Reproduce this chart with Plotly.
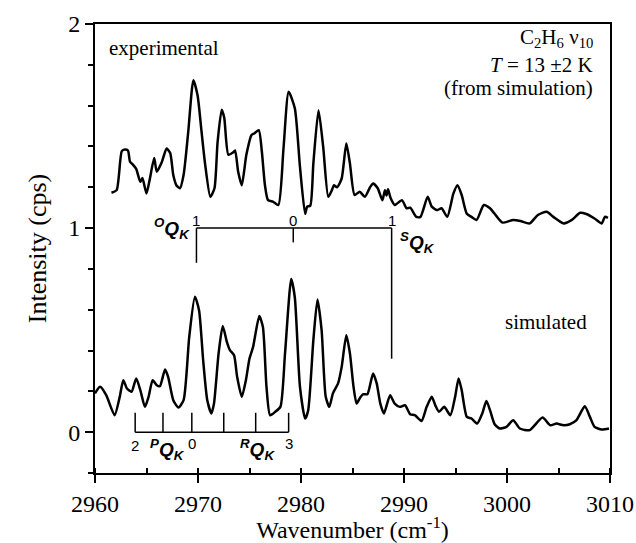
import plotly.graph_objects as go

# Experimental spectrum (offset by +1 cps)
exp_x = [2961.6, 2962.1, 2962.6, 2962.9, 2963.2, 2963.4, 2963.7, 2964.0, 2964.4, 2964.6,
         2965.0, 2965.3, 2965.75, 2966.0, 2966.5, 2966.95, 2967.3, 2967.6, 2967.9, 2968.25,
         2968.6, 2969.05, 2969.55, 2969.96, 2970.35, 2970.7, 2971.2, 2971.6, 2971.9, 2972.3,
         2972.55, 2972.95, 2973.4, 2973.6, 2973.9, 2974.25, 2974.7, 2975.2, 2975.5, 2975.9,
         2976.2, 2976.5, 2976.8, 2977.3, 2977.8, 2978.3, 2978.8, 2979.4, 2979.9, 2980.4,
         2980.6, 2980.9, 2981.2, 2981.7, 2982.15, 2982.65, 2983.0, 2983.2, 2983.5, 2983.95,
         2984.4, 2984.75, 2985.2, 2985.7, 2986.2, 2986.7, 2987.0, 2987.45, 2987.9, 2988.15,
         2988.3, 2988.45, 2988.7, 2989.1, 2989.8, 2990.25, 2990.6, 2991.2, 2991.6, 2992.3,
         2992.7, 2993.2, 2993.65, 2994.2, 2994.8, 2995.2, 2995.6, 2996.1, 2996.55, 2997.05,
         2997.75, 2998.35, 2998.8, 2999.55, 3000.6, 3001.3, 3002.2, 3003.0, 3003.85, 3004.5,
         3005.5, 3006.3, 3007.1, 3007.7, 3008.5, 3009.2, 3009.5, 3009.8]
exp_y = [1.173, 1.186, 1.377, 1.385, 1.38, 1.325, 1.31, 1.29, 1.227, 1.245,
         1.17, 1.235, 1.343, 1.276, 1.325, 1.39, 1.368, 1.26, 1.21, 1.195,
         1.26, 1.47, 1.725, 1.65, 1.47, 1.31, 1.153, 1.195, 1.42, 1.58,
         1.54, 1.36, 1.37, 1.38, 1.276, 1.21, 1.36, 1.456, 1.465, 1.48,
         1.374, 1.21, 1.137, 1.129, 1.113, 1.39, 1.668, 1.587, 1.3, 1.07,
         1.105, 1.11, 1.317, 1.578, 1.4, 1.153, 1.186, 1.21, 1.2, 1.243,
         1.415, 1.317, 1.162, 1.178, 1.153, 1.2, 1.219, 1.195, 1.137, 1.186,
         1.16, 1.19, 1.147, 1.113, 1.137, 1.097, 1.1, 1.055, 1.055, 1.153,
         1.105, 1.088, 1.097, 1.055, 1.17, 1.21, 1.162, 1.07, 1.055, 1.04,
         1.113, 1.097, 1.07, 1.027, 1.04, 1.035, 1.023, 1.064, 1.08, 1.055,
         1.023, 1.04, 1.075, 1.069, 1.047, 1.023, 1.055, 1.05]

# Simulated spectrum
sim_x = [2960.0, 2960.5, 2961.1, 2961.9, 2962.4, 2962.75, 2963.1, 2963.55, 2964.0, 2964.4,
         2964.85, 2965.2, 2965.6, 2966.0, 2966.3, 2966.8, 2967.1, 2967.6, 2968.1, 2968.6,
         2969.15, 2969.7, 2970.1, 2970.5, 2970.9, 2971.3, 2971.55, 2972.0, 2972.4, 2972.8,
         2973.1, 2973.5, 2973.8, 2974.25, 2974.65, 2975.0, 2975.35, 2975.95, 2976.3, 2976.65,
         2977.0, 2977.5, 2978.0, 2978.45, 2979.05, 2979.4, 2979.9, 2980.4, 2980.7, 2981.2,
         2981.6, 2982.0, 2982.4, 2982.75, 2983.1, 2983.6, 2983.95, 2984.4, 2984.75, 2985.1,
         2985.4, 2985.75, 2986.05, 2986.45, 2987.0, 2987.35, 2987.7, 2988.05, 2988.65, 2989.1,
         2989.6, 2990.1, 2990.6, 2991.05, 2991.7, 2992.2, 2992.7, 2993.05, 2993.4, 2993.9,
         2994.5, 2994.95, 2995.3, 2995.6, 2996.1, 2996.55, 2997.1, 2997.6, 2998.0, 2998.35,
         2998.8, 2999.3, 2999.95, 3000.6, 3001.25, 3002.2, 3003.45, 3004.2, 3004.8, 3005.5,
         3006.1, 3006.75, 3007.55, 3008.05, 3008.5, 3009.2, 3009.9]
sim_y = [0.19, 0.222, 0.18, 0.083, 0.173, 0.255, 0.214, 0.198, 0.263, 0.206,
         0.124, 0.173, 0.255, 0.23, 0.225, 0.307, 0.271, 0.157, 0.121, 0.157,
         0.467, 0.663, 0.598, 0.353, 0.157, 0.092, 0.14, 0.386, 0.52, 0.443,
         0.402, 0.377, 0.271, 0.173, 0.255, 0.361, 0.418, 0.569, 0.516, 0.222,
         0.083, 0.1, 0.124, 0.386, 0.75, 0.66, 0.222, 0.067, 0.108, 0.451,
         0.65, 0.5, 0.173, 0.124, 0.19, 0.239, 0.32, 0.475, 0.386, 0.222,
         0.14, 0.17, 0.186, 0.186, 0.288, 0.239, 0.14, 0.092, 0.181, 0.14,
         0.124, 0.132, 0.088, 0.083, 0.055, 0.124, 0.173, 0.13, 0.1, 0.124,
         0.083, 0.17, 0.263, 0.206, 0.075, 0.067, 0.042, 0.092, 0.153, 0.108,
         0.039, 0.018, 0.026, 0.059, 0.018, 0.01, 0.072, 0.034, 0.042, 0.034,
         0.039, 0.059, 0.127, 0.075, 0.026, 0.013, 0.018]

# Upper assignment bracket (O / S branches)
upper_pos = [2969.85, 2979.25, 2988.8]
upper_labels = ["1", "0", "1"]
upper_level = 1.0
upper_drop = [0.83, 0.93, 0.36]

# Lower assignment comb (P / R branches)
lower_pos = [2963.9, 2966.6, 2969.4, 2972.5, 2975.6, 2978.8]
lower_level = 0.0
lower_top = 0.095

FONT = "Liberation Serif"
fig = go.Figure()

fig.add_trace(go.Scatter(x=exp_x, y=exp_y, mode="lines",
                         line=dict(color="black", width=2.5, shape="spline", smoothing=0.6),
                         showlegend=False, hoverinfo="skip"))
fig.add_trace(go.Scatter(x=sim_x, y=sim_y, mode="lines",
                         line=dict(color="black", width=2.5, shape="spline", smoothing=0.6),
                         showlegend=False, hoverinfo="skip"))

# upper bracket
fig.add_trace(go.Scatter(x=[upper_pos[0], upper_pos[-1]], y=[upper_level, upper_level], mode="lines",
                         line=dict(color="black", width=1.5), showlegend=False, hoverinfo="skip"))
for p, d in zip(upper_pos, upper_drop):
    fig.add_trace(go.Scatter(x=[p, p], y=[upper_level, d], mode="lines",
                             line=dict(color="black", width=1.5), showlegend=False, hoverinfo="skip"))
# lower comb
fig.add_trace(go.Scatter(x=[lower_pos[0], lower_pos[-1]], y=[lower_level, lower_level], mode="lines",
                         line=dict(color="black", width=1.5), showlegend=False, hoverinfo="skip"))
for p in lower_pos:
    fig.add_trace(go.Scatter(x=[p, p], y=[lower_level, lower_top], mode="lines",
                             line=dict(color="black", width=1.5), showlegend=False, hoverinfo="skip"))

ann = []
LAB = dict(family="Liberation Sans", size=15, color="black")
QF = dict(family="Liberation Sans", size=19, color="black")
for p, t in zip(upper_pos, upper_labels):
    ann.append(dict(x=p, y=upper_level, text=t, showarrow=False, xanchor="center", yanchor="bottom",
                    font=LAB, yshift=-3))
ann.append(dict(x=upper_pos[0] - 0.4, y=upper_level, text="<b><i><sup>O</sup>Q<sub>K</sub></i></b>",
                showarrow=False, xanchor="right", yanchor="middle", font=QF))
ann.append(dict(x=upper_pos[-1] + 0.6, y=upper_level - 0.07, text="<b><i><sup>S</sup>Q<sub>K</sub></i></b>",
                showarrow=False, xanchor="left", yanchor="middle", font=QF))
ann.append(dict(x=lower_pos[0], y=-0.065, text="2", showarrow=False, font=LAB))
ann.append(dict(x=2967.0, y=-0.085, text="<b><i><sup>P</sup>Q<sub>K</sub></i></b>", showarrow=False, font=QF))
ann.append(dict(x=lower_pos[2], y=-0.055, text="0", showarrow=False, font=LAB))
ann.append(dict(x=2975.8, y=-0.085, text="<b><i><sup>R</sup>Q<sub>K</sub></i></b>", showarrow=False, font=QF))
ann.append(dict(x=lower_pos[-1], y=-0.055, text="3", showarrow=False, font=LAB))

TXT = dict(family=FONT, size=21, color="black")
ann.append(dict(x=2961.2, y=1.88, text="experimental", showarrow=False, xanchor="left", yanchor="middle", font=TXT))
ann.append(dict(x=3008.5, y=1.93, text="C<sub>2</sub>H<sub>6</sub> ν<sub>10</sub>", showarrow=False,
                xanchor="right", yanchor="middle", font=TXT))
ann.append(dict(x=3008.5, y=1.80, text="<i>T</i> = 13 ±2 K", showarrow=False,
                xanchor="right", yanchor="middle", font=TXT))
ann.append(dict(x=3008.5, y=1.686, text="(from simulation)", showarrow=False,
                xanchor="right", yanchor="middle", font=TXT))
ann.append(dict(x=3008.0, y=0.54, text="simulated", showarrow=False, xanchor="right", yanchor="middle", font=TXT))

fig.update_layout(
    width=636, height=543,
    margin=dict(l=95, r=26, t=24, b=70),
    paper_bgcolor="white", plot_bgcolor="white",
    font=dict(family=FONT, color="black"),
    annotations=ann,
    xaxis=dict(range=[2960, 3010], tickmode="linear", tick0=2960, dtick=10, automargin=False,
               ticks="outside", ticklen=8, tickwidth=1.5, tickcolor="black",
               minor=dict(dtick=5, ticks="inside", ticklen=5, tickwidth=1.5, tickcolor="black"),
               showline=True, linewidth=2, linecolor="black", mirror=True,
               showgrid=False, zeroline=False,
               tickfont=dict(family=FONT, size=24, color="black"),
               title=dict(text="Wavenumber (cm<sup>-1</sup>)", font=dict(family=FONT, size=24, color="black"), standoff=6)),
    yaxis=dict(range=[-0.2, 2], tickmode="array", tickvals=[0, 1, 2], automargin=False,
               ticks="outside", ticklen=8, tickwidth=1.5, tickcolor="black",
               minor=dict(dtick=0.2, ticks="outside", ticklen=5, tickwidth=1.5, tickcolor="black"),
               showline=True, linewidth=2, linecolor="black", mirror=True,
               showgrid=False, zeroline=False,
               tickfont=dict(family=FONT, size=24, color="black"),
               title=dict(text="Intensity (cps)", font=dict(family=FONT, size=26, color="black"), standoff=14)),
)

fig.write_html("out.html")
